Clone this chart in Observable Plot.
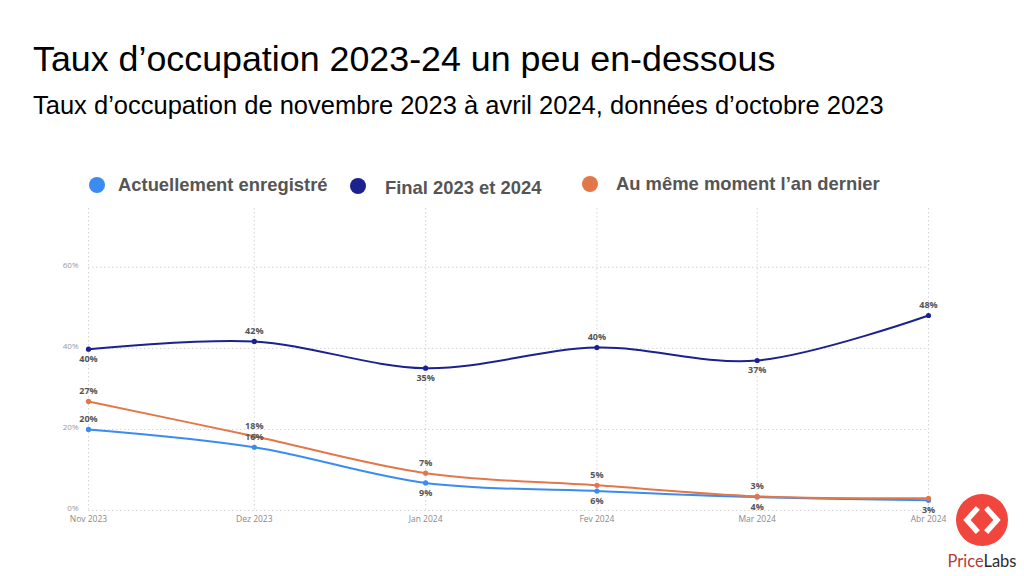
<!DOCTYPE html>
<html>
<head>
<meta charset="utf-8">
<script src="https://cdn.jsdelivr.net/npm/d3@7"></script>
<script src="https://cdn.jsdelivr.net/npm/@observablehq/plot@0.6"></script>
<style>
  html, body { margin: 0; padding: 0; background: #fff; }
  #page { position: relative; width: 1024px; height: 576px; overflow: hidden; font-family: "Liberation Sans", Arial, sans-serif; }
  #title { position: absolute; left: 33px; top: 39px; font-size: 35.8px; color: #000; white-space: nowrap; }
  #subtitle { position: absolute; left: 33px; top: 91px; font-size: 25.5px; color: #000; white-space: nowrap; }
  .leg { position: absolute; font-weight: bold; font-size: 18.4px; color: #555; white-space: nowrap; display: flex; align-items: center; }
  .leg .sw { width: 16px; height: 16px; border-radius: 50%; display: inline-block; }
  #chart { position: absolute; left: 0; top: 190px; }
  #logo { position: absolute; left: 940px; top: 490px; }
</style>
</head>
<body>
<div id="page">
  <div id="title">Taux d’occupation 2023-24 un peu en-dessous</div>
  <div id="subtitle">Taux d’occupation de novembre 2023 à avril 2024, données d’octobre 2023</div>
  <div id="legend"></div>
  <div id="chart"></div>
  <svg id="logo" width="84" height="86" viewBox="0 0 84 86">
    <circle cx="42" cy="30" r="26" fill="#f0463e"></circle>
    <polyline points="36,20 27,30 36,40" fill="none" stroke="#fff" stroke-width="5.5" stroke-linejoin="miter" stroke-linecap="square"></polyline>
    <polyline points="48,20 57,30 48,40" fill="none" stroke="#fff" stroke-width="5.5" stroke-linejoin="miter" stroke-linecap="square"></polyline>
    <text x="42" y="77" text-anchor="middle" font-family="Lato, 'Open Sans', sans-serif" font-size="16.5"><tspan fill="#b53a38">Price</tspan><tspan fill="#2b2b2b">Labs</tspan></text>
  </svg>
</div>
<script>
// ---- data ----
const months = ["2023-11-01", "2023-12-01", "2024-01-01", "2024-02-01", "2024-03-01", "2024-04-01"];
const monthLabels = ["Nov 2023", "Dez 2023", "Jan 2024", "Fev 2024", "Mar 2024", "Abr 2024"];
const seriesNames = ["Actuellement enregistré", "Final 2023 et 2024", "Au même moment l’an dernier"];
const seriesColors = ["#3a8cf0", "#1c2190", "#e2784a"];
const actuel = [20.0, 15.6, 6.8, 4.8, 3.3, 2.5];
const finalVals = [39.8, 41.7, 35.1, 40.2, 37.0, 48.1];
const anDernier = [26.9, 18.3, 9.2, 6.2, 3.5, 3.0];
const actuelLabels = ["20%", "16%", "9%", "6%", "4%", "3%"];
const finalLabels = ["40%", "42%", "35%", "40%", "37%", "48%"];
const anDernierLabels = ["27%", "18%", "7%", "5%", "3%", ""];
const yTicks = [0, 20, 40, 60];

// ---- build rows ----
const dates = months.map(m => new Date(m + "T00:00:00Z"));
const labelOf = new Map(dates.map((d, i) => [+d, monthLabels[i]]));
const valuesBySeries = [actuel, finalVals, anDernier];
const labelsBySeries = [actuelLabels, finalLabels, anDernierLabels];
const rows = [];
valuesBySeries.forEach((vals, s) => {
  vals.forEach((v, i) => {
    let above;
    if (s === 1) above = i > 0 && v >= vals[i - 1];
    else if (s === 0) above = i < 2;
    else above = true;
    rows.push({series: seriesNames[s], date: dates[i], value: v, label: labelsBySeries[s][i], above});
  });
});

// ---- legend ----
const legendPos = [[89, 185, 13], [350, 188, 19], [582, 184, 18]];
const legend = document.getElementById("legend");
seriesNames.forEach((n, i) => {
  const el = document.createElement("div");
  el.className = "leg";
  el.style.left = legendPos[i][0] + "px";
  el.style.top = (legendPos[i][1] - 11) + "px";
  el.innerHTML = `<span class="sw" style="background:${seriesColors[i]};margin-right:${legendPos[i][2]}px;margin-top:${i === 1 ? -5 : 0}px"></span><span>${n}</span>`;
  legend.appendChild(el);
});

// ---- chart ----
const color = {domain: seriesNames, range: seriesColors};
const lineOrder = [seriesNames[1], seriesNames[0], seriesNames[2]];
const chart = Plot.plot({
  width: 1024,
  height: 340,
  marginTop: 18,
  marginBottom: 20,
  marginLeft: 88,
  marginRight: 96,
  style: {fontFamily: "'Open Sans', 'Noto Sans', sans-serif", background: "transparent"},
  x: {type: "utc", domain: [dates[0], dates[dates.length - 1]], axis: null, label: null},
  y: {domain: [0, 74.5], axis: null, label: null},
  color,
  marks: [
    Plot.gridY(yTicks, {stroke: "#d4d4d4", strokeOpacity: 1, strokeDasharray: "1.5,2.5"}),
    Plot.gridX(dates, {stroke: "#d4d4d4", strokeOpacity: 1, strokeDasharray: "1.5,2.5"}),
    Plot.axisY(yTicks, {tickSize: 0, tickPadding: 10, tickFormat: d => d + "%", fontSize: 8, fill: "#999", textAnchor: "end", dy: -2, label: null}),
    Plot.axisX(dates, {tickSize: 0, tickPadding: 5, tickFormat: d => labelOf.get(+d), fontSize: 8.5, fill: "#8a8a8a", label: null}),
    ...lineOrder.map(name => Plot.line(rows.filter(r => r.series === name), {x: "date", y: "value", stroke: "series", strokeWidth: 2, curve: "catmull-rom"})),
    Plot.dot(rows, {x: "date", y: "value", fill: "series", r: 2.6}),
    Plot.text(rows.filter(r => r.label && r.above), {x: "date", y: "value", text: "label", dy: -10, fill: "#555", fontWeight: "bold", fontSize: 9}),
    Plot.text(rows.filter(r => r.label && !r.above), {x: "date", y: "value", text: "label", dy: 10, fill: "#555", fontWeight: "bold", fontSize: 9})
  ]
});
document.getElementById("chart").appendChild(chart);
</script>
</body>
</html>
